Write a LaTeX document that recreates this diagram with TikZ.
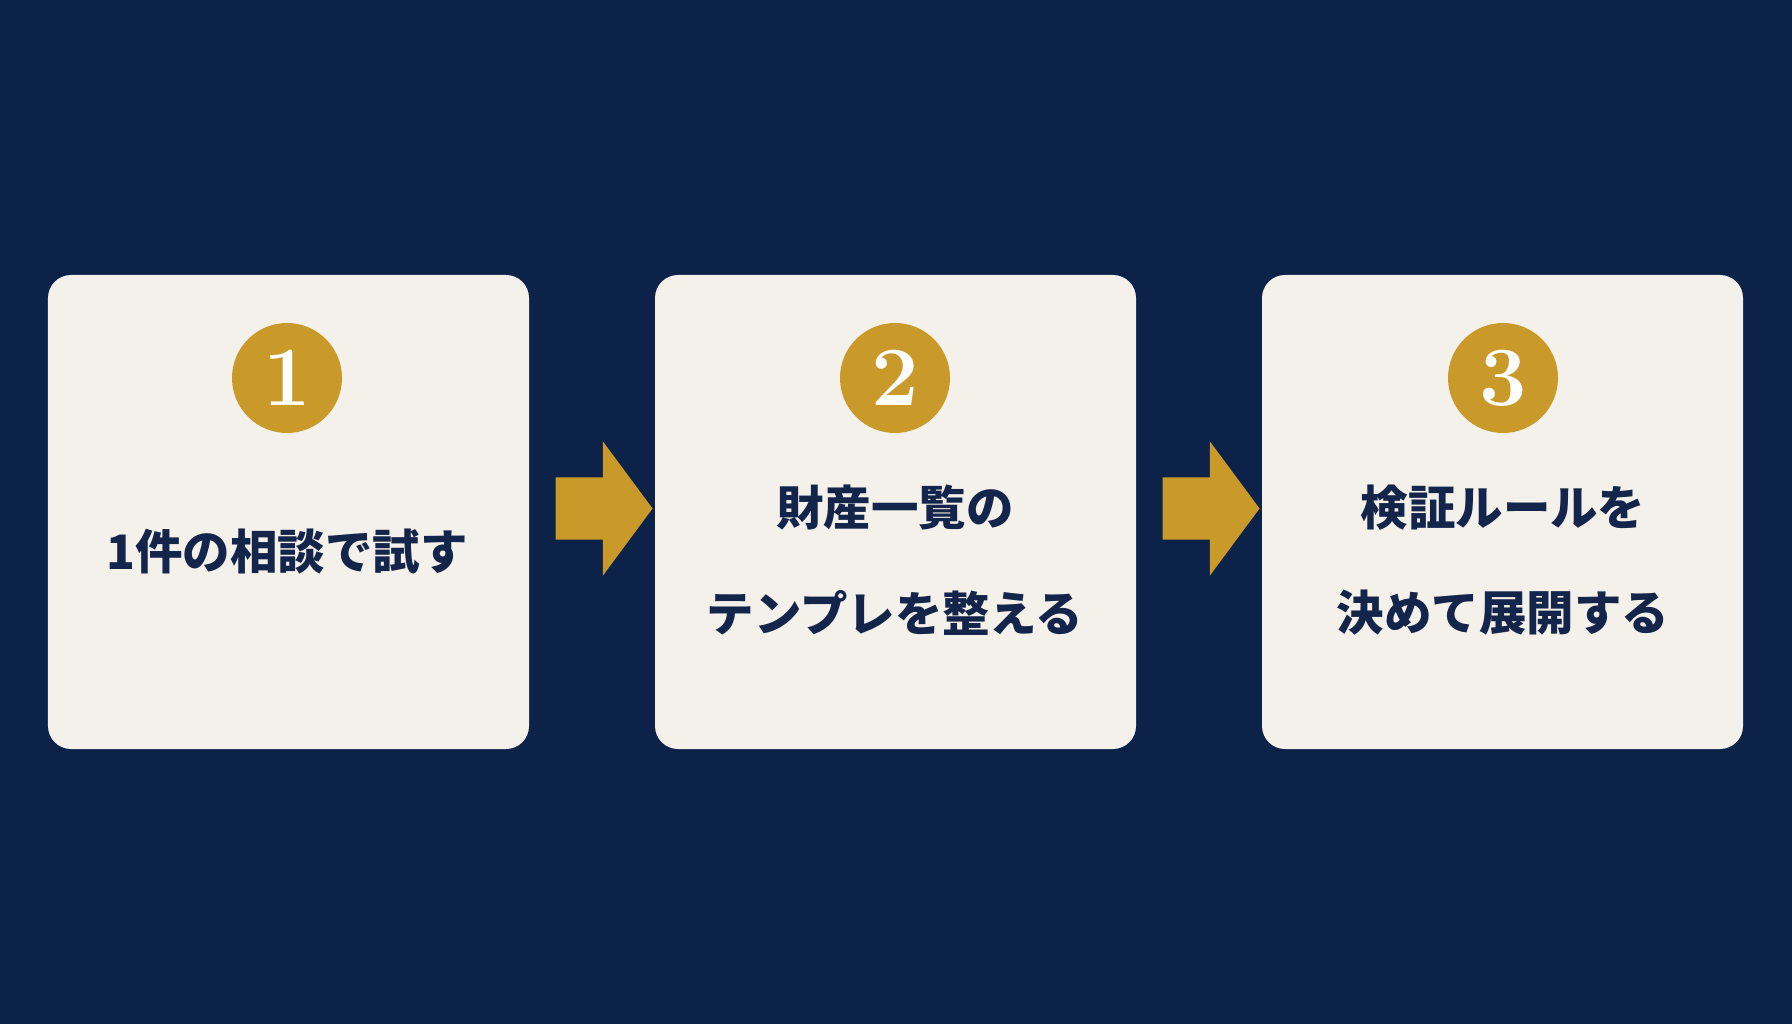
\documentclass[tikz,border=0pt]{standalone}
\usepackage{fontspec}
\newfontfamily\cjk{Noto Sans CJK JP}
\usetikzlibrary{shapes.arrows, positioning}
\definecolor{navybg}{HTML}{0D2249}
\definecolor{cardbg}{HTML}{F4F0EA}
\definecolor{gold}{HTML}{C99A2A}
\definecolor{inktext}{HTML}{13254A}

\begin{document}
\begin{tikzpicture}[
            card/.style={rectangle, rounded corners=0.23cm, fill=cardbg, minimum width=4.81cm, minimum height=4.74cm},
            badge/.style={circle, fill=gold, minimum size=1.1cm, inner sep=0pt, font=\bfseries\fontsize{24}{24}\selectfont, text=white},
            steptext/.style={align=center, text=inktext, font=\cjk\bfseries\fontsize{13.5}{30}\selectfont},
            flow/.style={single arrow, fill=gold, minimum height=0.97cm, minimum width=1.33cm, inner sep=0.305cm, single arrow tip angle=107, single arrow head extend=0.36cm}
        ]

% Background
            \fill[navybg] (0,0) rectangle (17.92,10.24);

% Cards
            \node[card] (card1) at (2.885,5.12) {};
            \node[card] (card2) at (8.955,5.12) {};
            \node[card] (card3) at (15.025,5.12) {};

% Badges
            \node[badge] (num1) at (2.87,6.46) {1};
            \node[badge] (num2) at (8.95,6.46) {2};
            \node[badge] (num3) at (15.03,6.46) {3};

% Step texts
            \node[steptext] (text1) at (2.87,4.72) {1件の相談で試す};
            \node[steptext] (text2) at (8.95,4.64) {財産一覧の\\テンプレを整える};
            \node[steptext] (text3) at (15.03,4.64) {検証ルールを\\決めて展開する};

% Arrows
            \node[flow] (arr1) at (5.925,5.155) {};
            \node[flow] (arr2) at (11.995,5.155) {};

        \end{tikzpicture}
\end{document}
